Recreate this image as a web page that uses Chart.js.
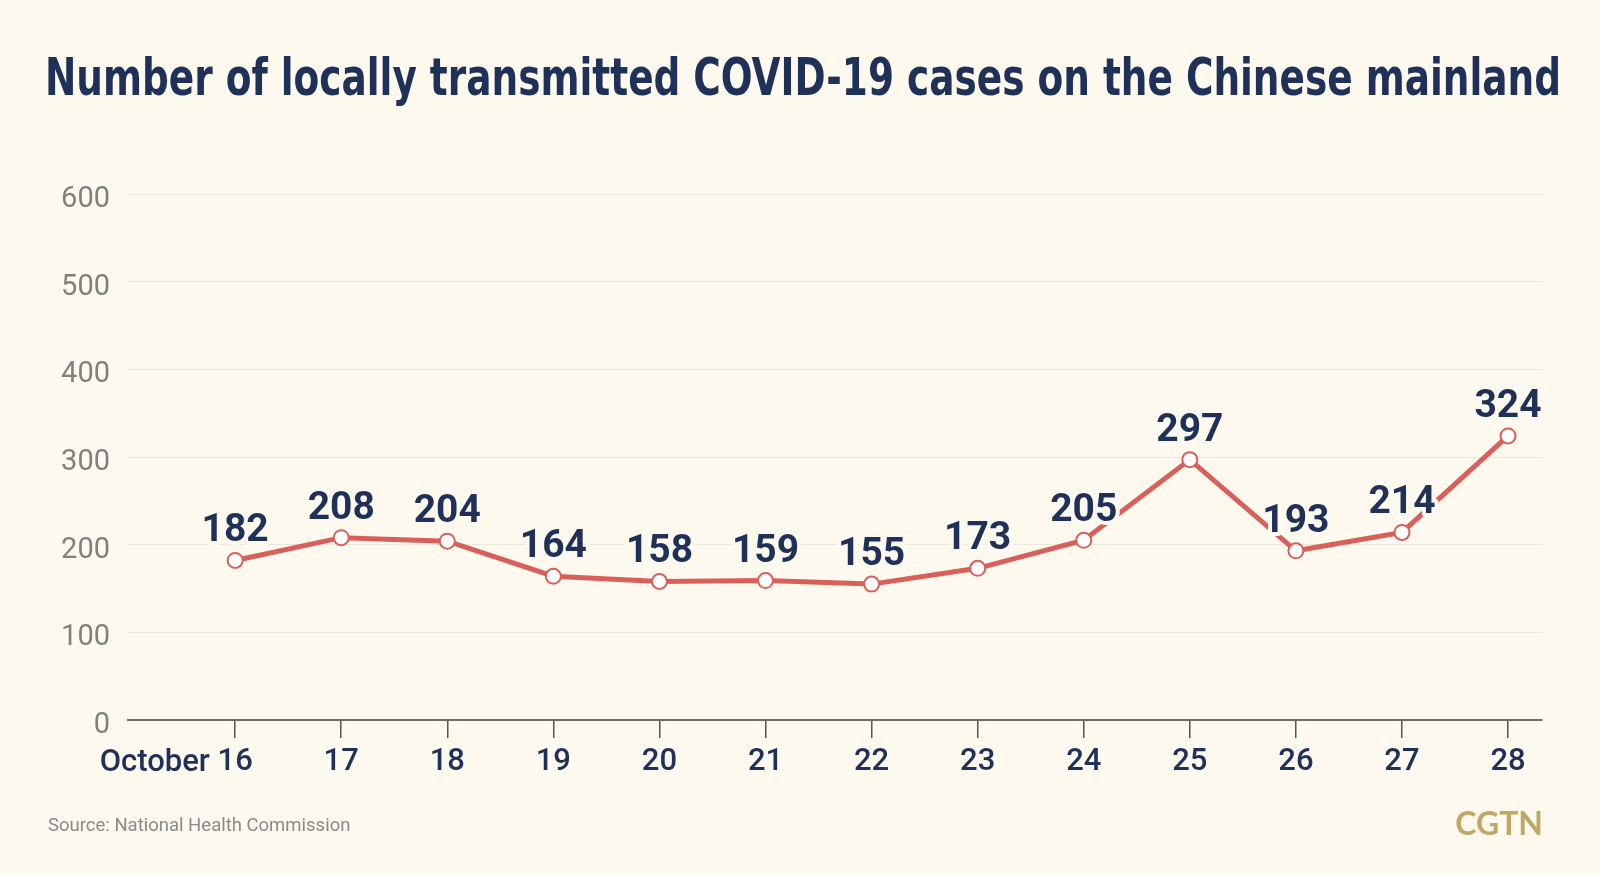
<!DOCTYPE html>
<html>
<head>
<meta charset="utf-8">
<script src="https://cdn.jsdelivr.net/npm/chart.js@4.4.1/dist/chart.umd.min.js"></script>
<style>
  html, body { margin: 0; padding: 0; background: #fdf9ee; }
  #wrap { width: 1600px; height: 875px; }
</style>
</head>
<body>
<div id="wrap"><canvas id="chart" width="1600" height="875"></canvas></div>
<script>
// data
const categories = ['October 16', '17', '18', '19', '20', '21', '22', '23', '24', '25', '26', '27', '28'];
const cases = [182, 208, 204, 164, 158, 159, 155, 173, 205, 297, 193, 214, 324];
const yMin = 0;
const yMax = 600;
const yStep = 100;

const titleText = 'Number of locally transmitted COVID-19 cases on the Chinese mainland';
const sourceText = 'Source: National Health Commission';
const logoText = 'CGTN';

const BG = '#fdf9ee';
const NAVY = '#1f3158';
const RED = '#d9605a';

// paints background, title, source and logo
const decorPlugin = {
  id: 'decor',
  beforeDraw(chart) {
    const ctx = chart.ctx;
    ctx.save();
    ctx.fillStyle = BG;
    ctx.fillRect(0, 0, chart.width, chart.height);
    ctx.restore();
  },
  afterDraw(chart) {
    const ctx = chart.ctx;
    ctx.save();
    // title, squeezed to the width it has in the reference
    ctx.font = 'bold 52px "Liberation Sans Narrow", "DejaVu Sans Condensed", Roboto, sans-serif';
    ctx.fillStyle = NAVY;
    ctx.textBaseline = 'alphabetic';
    ctx.textAlign = 'left';
    const w = ctx.measureText(titleText).width;
    const sx = Math.min(1, 1516 / w);
    ctx.translate(45, 95);
    ctx.scale(sx, 1);
    ctx.fillText(titleText, 0, 0);
    ctx.restore();

    ctx.save();
    ctx.font = '18.5px Roboto, "Noto Sans", sans-serif';
    ctx.fillStyle = '#8a8a88';
    ctx.textBaseline = 'alphabetic';
    ctx.fillText(sourceText, 48, 831);

    ctx.font = 'bold 32px Lato, "Noto Sans", sans-serif';
    ctx.fillStyle = '#bfa862';
    ctx.textAlign = 'right';
    ctx.fillText(logoText, 1543, 835);

    // "October" prefix to the left of the first tick number
    const xs = chart.scales.x;
    const parts = categories[0].split(' ');
    if (parts.length > 1) {
      ctx.font = '500 31px Roboto, sans-serif';
      ctx.fillStyle = NAVY;
      const num = parts.pop();
      const numW = ctx.measureText(num).width;
      ctx.textAlign = 'right';
      ctx.fillText(parts.join(' ') + ' ', xs.getPixelForValue(0) - numW / 2, 771);
    }
    ctx.restore();
  }
};

// value labels above each point, with a halo that cuts the line
const valueLabels = {
  id: 'valueLabels',
  afterDatasetsDraw(chart) {
    const ctx = chart.ctx;
    const meta = chart.getDatasetMeta(0);
    ctx.save();
    ctx.font = 'bold 39px Roboto, "Liberation Sans", sans-serif';
    ctx.textAlign = 'center';
    ctx.textBaseline = 'alphabetic';
    ctx.lineJoin = 'round';
    meta.data.forEach((pt, i) => {
      const txt = String(cases[i]);
      ctx.strokeStyle = BG;
      ctx.lineWidth = 8;
      ctx.strokeText(txt, pt.x, pt.y - 19);
      ctx.fillStyle = NAVY;
      ctx.fillText(txt, pt.x, pt.y - 19);
    });
    ctx.restore();
  }
};

new Chart(document.getElementById('chart'), {
  type: 'line',
  data: {
    datasets: [{
      data: cases.map((v, i) => ({ x: i, y: v })),
      borderColor: RED,
      borderWidth: 5,
      tension: 0,
      fill: false,
      pointRadius: 7.5,
      pointBackgroundColor: '#ffffff',
      pointBorderColor: RED,
      pointBorderWidth: 2,
    }]
  },
  options: {
    responsive: false,
    animation: false,
    devicePixelRatio: 1,
    layout: { padding: { top: 194, right: 58, bottom: 0, left: 0 } },
    plugins: {
      legend: { display: false },
      tooltip: { enabled: false },
      title: { display: false },
    },
    scales: {
      x: {
        type: 'linear',
        min: -1.01,
        max: 12.32,
        afterBuildTicks: (axis) => {
          axis.ticks = categories.map((_, i) => ({ value: i }));
        },
        afterFit: (axis) => { axis.height = 155; },
        ticks: {
          autoSkip: false,
          maxRotation: 0,
          padding: 6,
          color: NAVY,
          font: { family: 'Roboto', size: 31, weight: '500' },
          callback: (v) => categories[v] ? categories[v].split(' ').pop() : '',
        },
        grid: {
          drawOnChartArea: false,
          drawTicks: true,
          tickLength: 18,
          color: '#55554e',
          lineWidth: 1.5,
        },
        border: { display: true, color: '#6e6c63', width: 2 },
      },
      y: {
        min: yMin,
        max: yMax,
        afterFit: (axis) => { axis.width = 128; },
        ticks: {
          stepSize: yStep,
          padding: 18,
          color: '#808080',
          font: { family: 'Roboto', size: 29, weight: '400', lineHeight: 0.4 },
          // empty first line nudges the number a few pixels below its gridline
          callback: (v) => ['', String(v)],
        },
        grid: { color: '#ebe6da', lineWidth: 1, drawTicks: false },
        border: { display: false },
      }
    }
  },
  plugins: [decorPlugin, valueLabels]
});
</script>
</body>
</html>
